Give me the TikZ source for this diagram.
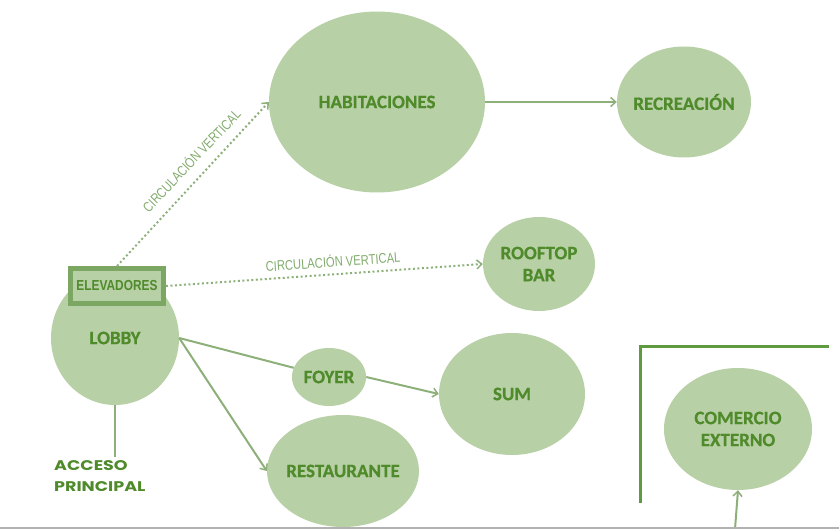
\documentclass[tikz,border=0pt]{standalone}
\usepackage{fontspec}
\setmainfont{Carlito}[BoldFont={Carlito Bold}, BoldFeatures={FakeBold=0.6}]
\newfontfamily\condfont{Liberation Sans}[FakeStretch=0.8, BoldFont={Liberation Sans Bold}, BoldFeatures={FakeStretch=0.82}]
\newfontfamily\popfont{Poppins}[BoldFont={Poppins Bold}, BoldFeatures={FakeStretch=1.25}]
\usetikzlibrary{shapes.geometric,arrows.meta}
\definecolor{fillg}{HTML}{B8D0A6}
\definecolor{textg}{HTML}{4F8A2B}
\definecolor{lineg}{HTML}{8DB07A}
\definecolor{darkg}{HTML}{5E9A40}
\definecolor{boxg}{HTML}{7BA763}
\tikzset{
  bubble/.style={ellipse, fill=fillg, inner sep=0pt, text=textg, font=\bfseries\fontsize{19}{22}\selectfont, align=center},
  conn/.style={draw=lineg, line width=2pt},
  tipp/.style={-{Straight Barb[length=5pt,width=9pt,line width=1.5pt]}},
  dots/.style={draw=lineg, line width=2pt, dash pattern=on 2pt off 2.5pt},
  cirlabel/.style={text=lineg!75!darkg, font=\condfont\fontsize{14}{16}\selectfont, inner sep=1pt}
}
\begin{document}
\begin{tikzpicture}[x=1pt,y=-1pt]
\useasboundingbox (0,0) rectangle (839,529);
% bubbles
\node[bubble, minimum width=216pt, minimum height=181pt] (hab) at (377,102) {\makebox[0pt]{HABITACIONES}};
\node[bubble, minimum width=134pt, minimum height=111pt] (rec) at (684,102) {\makebox[0pt]{RECREACIÓN}};
\node[bubble, minimum width=112pt, minimum height=94pt] (roof) at (539,264) {ROOFTOP\\BAR};
\node[bubble, minimum width=128pt, minimum height=134pt] (lobby) at (115,338) {LOBBY};
\node[bubble, minimum width=74pt, minimum height=58pt] (foyer) at (329,377) {\makebox[0pt]{FOYER}};
\node[bubble, minimum width=146pt, minimum height=122pt] (sum) at (512,394) {SUM};
\node[bubble, minimum width=152pt, minimum height=112pt] (rest) at (343,471) {\makebox[0pt]{RESTAURANTE}};
\node[bubble, minimum width=148pt, minimum height=122pt] (com) at (738,429) {COMERCIO\\EXTERNO};
% elevadores
\node[draw=boxg, line width=5pt, fill=fillg, minimum width=93pt, minimum height=35pt, inner sep=0pt,
  text=textg, font=\condfont\bfseries\fontsize{14.5}{15}\selectfont] (elev) at (117,286) {ELEVADORES};
% connectors
\draw[conn, tipp] (hab.east) -- (rec.west);
\draw[dots, tipp] (elev.north) -- (hab.west);
\draw[dots, tipp] (elev.east) -- (roof.west);
\draw[conn] (lobby.east) -- (foyer);
\draw[conn, tipp] (foyer.east) -- (sum.west);
\draw[conn, tipp] (lobby.east) -- (rest.west);
\coordinate (acc) at (115,457);
\draw[conn] (lobby.south) -- (acc);
\coordinate (combot) at (735,529);
\draw[conn, tipp] (combot) -- (com.south);
% labels
\node[cirlabel, rotate=46.5] (cv1) at (191,160) {CIRCULACIÓN VERTICAL};
\node[cirlabel, rotate=4] (cv2) at (333,261) {CIRCULACIÓN VERTICAL};
\node[text=textg, font=\popfont\bfseries\fontsize{14}{21}\selectfont, align=left, anchor=north west, inner sep=0pt] (accp) at (54,460) {ACCESO\\PRINCIPAL};
% corner
\coordinate (c1) at (640,503);
\coordinate (c2) at (640,347);
\coordinate (c3) at (829,347);
\draw[draw=darkg, line width=3pt] (c1) -- (c2) -- (c3);
% bottom gray line
\coordinate (g1) at (0,528);
\coordinate (g2) at (839,528);
\draw[draw=black!30, line width=2pt] (g1) -- (g2);
\end{tikzpicture}
\end{document}
